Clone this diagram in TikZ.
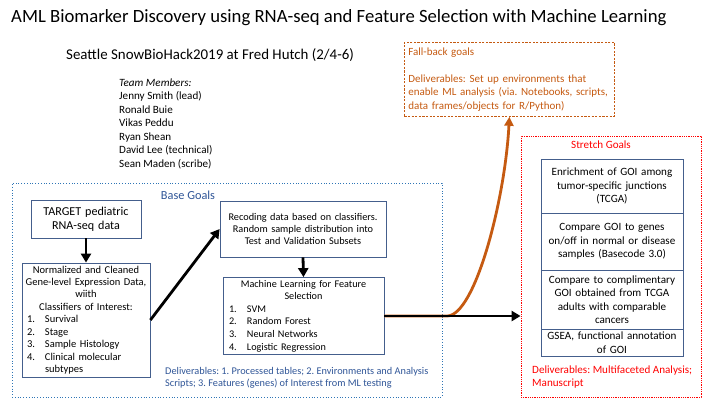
\documentclass[tikz,border=0pt]{standalone}
\usepackage{fontspec}
\setmainfont{Carlito}
\usetikzlibrary{arrows.meta,positioning}

\definecolor{boxblue}{RGB}{68,94,140}
\definecolor{goalblue}{RGB}{47,85,151}
\definecolor{frameblue}{RGB}{46,117,182}
\definecolor{fallorange}{RGB}{197,90,17}
\definecolor{stretchred}{RGB}{255,0,0}

\newcommand{\fsz}[2]{\fontsize{#1}{#2}\selectfont}
\newcommand{\itm}[2]{\hspace*{3pt}\makebox[18pt][l]{#1}#2}
\frenchspacing

\begin{document}
\begin{tikzpicture}[x=1pt,y=-1pt,
    flow/.style={line width=2.8pt,-{Triangle[length=9pt,width=10pt]}},
    fallarrow/.style={line width=2.8pt,color=fallorange,-{Triangle[length=9pt,width=9pt]}}]

    % `stepbox' is used for the steps of the base goals.
    % `cell' is used for the stacked stretch goals.
    % `frame' is used for the dotted goal areas.
    \tikzstyle{stepbox} = [draw=boxblue,line width=0.8pt,inner xsep=3pt,inner ysep=1pt]
    \tikzstyle{cell} = [draw=boxblue,line width=0.8pt,text width=138pt,align=center,
                        inner xsep=2pt,outer sep=0pt,font=\fsz{11.1}{13.5}]
    \tikzstyle{frame} = [line width=0.8pt,inner sep=0pt]
    \useasboundingbox (0,0) rectangle (720,405);

    % Heading.
    \node[anchor=base west,inner sep=0pt,font=\fsz{18.7}{22}] (title) at (11,22.7)
        {AML Biomarker Discovery using RNA-seq and Feature Selection with Machine Learning};
    \node[anchor=base west,inner sep=0pt,font=\fsz{14.9}{18}] (event) at (66,59.5)
        {Seattle SnowBioHack2019 at Fred Hutch (2/4-6)};
    \node[anchor=base west,inner sep=0pt,align=left,font=\fsz{11.1}{13.55}] (team) at (119,167.5)
        {\textit{Team Members:}\\Jenny Smith (lead)\\Ronald Buie\\Vikas Peddu\\Ryan Shean\\David Lee (technical)\\Sean Maden (scribe)};

    % Base goals.
    \node[frame,draw=frameblue,dotted,minimum width=430pt,minimum height=214pt] (base) at (227,290) {};
    \node[anchor=base,inner sep=0pt,text=goalblue,font=\fsz{12.3}{14}] (baselabel) at (188,199) {Base Goals};
    \node[stepbox,text width=104pt,inner xsep=3pt,minimum height=38pt,align=center,font=\fsz{12.1}{14}] (target) at (86,219)
        {TARGET pediatric\\RNA-seq data};
    \node[stepbox,text width=124pt,inner xsep=2pt,minimum height=114pt,font=\fsz{10.5}{12.45}] (norm) at (86,320)
        {{\centering Normalized and Cleaned\\Gene-level Expression Data,\\wiith\\Classifiers of Interest:\par}
         \raggedright\itm{1.}{Survival}\\\itm{2.}{Stage}\\\itm{3.}{Sample Histology}\\\itm{4.}{Clinical molecular}\\\hspace*{21pt}subtypes};
    \node[stepbox,text width=158pt,inner xsep=4pt,minimum height=56pt,align=center,font=\fsz{10.3}{12}] (recode) at (303,229)
        {Recoding data based on classifiers.\\Random sample distribution into\\Test and Validation Subsets};
    \node[stepbox,text width=155pt,inner xsep=3pt,minimum height=77pt,font=\fsz{10.2}{12.6}] (mlsel) at (303.5,316)
        {{\centering Machine Learning for Feature\\Selection\par}
         \raggedright\itm{1.}{SVM}\\\itm{2.}{Random Forest}\\\itm{3.}{Neural Networks}\\\itm{4.}{Logistic Regression}};
    \node[anchor=base west,inner sep=0pt,align=left,text=goalblue,font=\fsz{10.3}{12.5}] (basedeliv) at (165,386.5)
        {Deliverables: 1. Processed tables; 2. Environments and Analysis\\Scripts; 3. Features (genes) of Interest from ML testing};

    % Fall-back goals.
    \node[frame,draw=fallorange,dash pattern=on 2.2pt off 1.4pt,anchor=north west,text width=202pt,
          inner xsep=4pt,inner ysep=5pt,minimum height=74pt,align=left,text=fallorange,font=\fsz{11}{13.5}] (fallback) at (404,42)
        {Fall-back goals\\[13.5pt]Deliverables: Set up environments that\\enable ML analysis (via. Notebooks, scripts,\\data frames/objects for R/Python)};

    % Stretch goals.
    \node[frame,draw=stretchred,densely dotted,minimum width=180pt,minimum height=261pt] (stretch) at (611,266.5) {};
    \node[anchor=base,inner sep=0pt,text=stretchred,font=\fsz{11.1}{13}] (stretchlabel) at (601,148) {Stretch Goals};
    \node[cell,anchor=north,minimum height=54pt] (goi1) at (612,159)
        {Enrichment of GOI among\\tumor-specific junctions\\(TCGA)};
    \node[cell,below=0pt of goi1,minimum height=57pt] (goi2)
        {Compare GOI to genes\\on/off in normal or disease\\samples (Basecode 3.0)};
    \node[cell,below=0pt of goi2,minimum height=59pt] (goi3)
        {Compare to complimentary\\GOI obtained from TCGA\\adults with comparable\\cancers};
    \node[cell,below=0pt of goi3,minimum height=27pt,inner ysep=0pt] (goi4)
        {GSEA, functional annotation\\of GOI};
    \node[anchor=base west,inner sep=0pt,align=left,text=stretchred,font=\fsz{11.1}{13}] (stretchdeliv) at (532,386.5)
        {Deliverables: Multifaceted Analysis;\\Manuscript};

    % Connectors.
    \coordinate (split) at (447,316);
    \draw[fallarrow] (mlsel.east) -- (split) .. controls (475,316) and (505,200) .. (fallback.south);
    \draw[flow] (target.south) -- (norm.north);
    \draw[flow] (norm.east) -- (recode.west);
    \draw[flow] (recode.south) -- (mlsel.north);
    \draw[flow] (mlsel.east) -- (mlsel.east -| stretch.west);
\end{tikzpicture}
\end{document}
